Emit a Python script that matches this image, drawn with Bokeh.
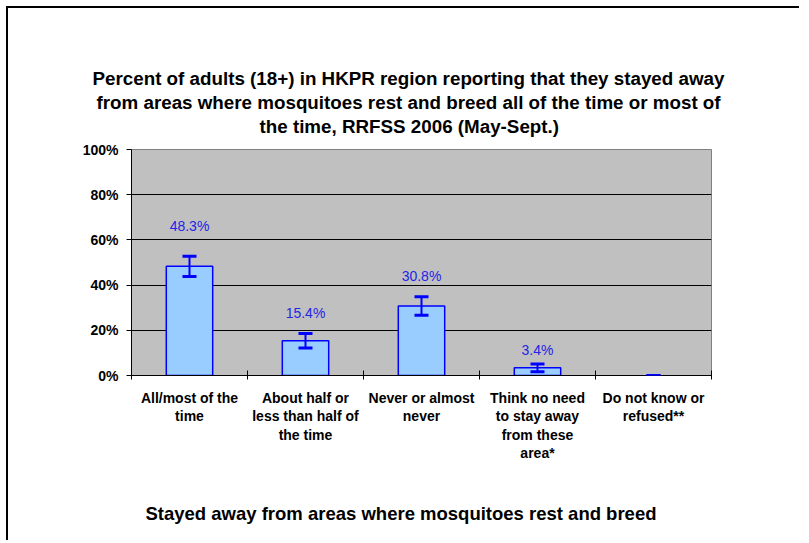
from bokeh.plotting import figure
from bokeh.models import (Range1d, FixedTicker, PrintfTickFormatter, ColumnDataSource,
                          Whisker, TeeHead, Title, InlineStyleSheet)
from bokeh.embed import file_html
from bokeh.resources import INLINE
from bokeh.core.properties import value

# ---------------- data ----------------
CATEGORIES = [
    "All/most of the\ntime",
    "About half or\nless than half of\nthe time",
    "Never or almost\nnever",
    "Think no need\nto stay away\nfrom these\narea*",
    "Do not know or\nrefused**",
]
PERCENT = [48.3, 15.4, 30.8, 3.4, 0.0]
CI_HALF = [4.5, 3.2, 4.1, 1.7, 0.0]
VALUE_LABELS = ["48.3%", "15.4%", "30.8%", "3.4%", ""]
Y_TICKS = [0, 20, 40, 60, 80, 100]
TITLE_LINES = [
    "Percent of adults (18+) in HKPR region reporting that they stayed away",
    "from areas where mosquitoes rest and breed all of the time or most of",
    "the time, RRFSS 2006 (May-Sept.)",
]
X_TITLE = "Stayed away from areas where mosquitoes rest and breed"

# ---------------- style ----------------
FONT = "Liberation Sans"
LABEL_GAP_PX = [40, 28, 30, 18, 0]
TITLE_LEFT_OFFSET_PX = [-39, -35, 128]   # left edge of each title line relative to plot area
BAR_FILL = "#99CCFF"
BLUE = "#0000FF"
LABEL_BLUE = "#2424E6"

n = len(CATEGORIES)
centers = [i + 0.5 for i in range(n)]
bar_idx = [i for i in range(n) if PERCENT[i] > 0]

bar_src = ColumnDataSource(dict(
    x=[centers[i] for i in bar_idx],
    top=[PERCENT[i] for i in bar_idx],
))
err_src = ColumnDataSource(dict(
    x=centers,
    upper=[v + e for v, e in zip(PERCENT, CI_HALF)],
    lower=[v - e for v, e in zip(PERCENT, CI_HALF)],
))
lab_src = ColumnDataSource(dict(
    x=[centers[i] for i in bar_idx],
    y=[PERCENT[i] for i in bar_idx],
    text=[VALUE_LABELS[i] for i in bar_idx],
    yoff=[-LABEL_GAP_PX[i] for i in bar_idx],
))

W, H = 793, 534
p = figure(width=W, height=H, output_backend="svg", toolbar_location=None,
           x_range=Range1d(0, n), y_range=Range1d(0, 100),
           min_border_left=123, min_border_right=90,
           min_border_top=141, min_border_bottom=H - 141 - 226)
p.title = None
p.stylesheets = [InlineStyleSheet(css=":host { margin-left: 6px; margin-top: 6px; "
                                      "border-left: 2px solid black; border-top: 2px solid black; }")]


def spacer(px):
    # a blank (white on white) panel used only to push the next title away from the plot
    return Title(text=".", text_font=FONT, text_font_size="12px",
                 text_color="white", standoff=px)


# title: spacer next to the plot, then lines from the nearest outward
p.add_layout(spacer(0.5), "above")
for line, off in reversed(list(zip(TITLE_LINES, TITLE_LEFT_OFFSET_PX))):
    p.add_layout(Title(text=line, align="left", offset=off,
                       text_font=FONT, text_font_style="bold", text_font_size="18.8px",
                       text_color="black", standoff=0.5), "above")

p.background_fill_color = "#C0C0C0"
p.border_fill_color = "white"
p.outline_line_color = "#808080"
p.outline_line_width = 1

p.vbar(x="x", top="top", width=0.4, bottom=0, source=bar_src,
       fill_color=BAR_FILL, line_color=BLUE, line_width=1.5)

wh = Whisker(base="x", upper="upper", lower="lower", source=err_src,
             line_color=BLUE, line_width=2, level="overlay",
             upper_head=TeeHead(size=14, line_color=BLUE, line_width=3),
             lower_head=TeeHead(size=14, line_color=BLUE, line_width=3))
p.add_layout(wh)

p.text(x="x", y="y", text="text", y_offset="yoff", source=lab_src,
       text_align="center", text_baseline="middle",
       text_font=value(FONT), text_font_size="14px", text_color=LABEL_BLUE)

# y axis
p.yaxis.ticker = FixedTicker(ticks=Y_TICKS)
p.yaxis.formatter = PrintfTickFormatter(format="%d%%")
p.yaxis.major_label_text_font = FONT
p.yaxis.major_label_text_font_style = "bold"
p.yaxis.major_label_text_font_size = "14px"
p.yaxis.major_label_text_color = "black"
p.yaxis.major_tick_in = 0
p.yaxis.major_tick_out = 5
p.yaxis.minor_tick_line_color = None
p.yaxis.major_label_standoff = 8
p.yaxis.axis_line_color = "black"

# x axis
p.xaxis.ticker = FixedTicker(ticks=centers, minor_ticks=list(range(n + 1)))
p.xaxis.major_label_overrides = {c: lab for c, lab in zip(centers, CATEGORIES)}
p.xaxis.major_tick_line_color = None
p.xaxis.major_tick_in = 0
p.xaxis.major_tick_out = 0
p.xaxis.minor_tick_in = 5
p.xaxis.minor_tick_out = 4
p.xaxis.minor_tick_line_color = "black"
p.xaxis.major_label_text_font = FONT
p.xaxis.major_label_text_font_style = "bold"
p.xaxis.major_label_text_font_size = "14px"
p.xaxis.major_label_text_line_height = 1.16
p.xaxis.major_label_text_color = "black"
p.xaxis.major_label_standoff = 10
p.xaxis.axis_line_color = "black"

p.xgrid.grid_line_color = None
p.ygrid.grid_line_color = "black"
p.ygrid.grid_line_width = 1

# x-axis title below the category labels
p.add_layout(spacer(25.4), "below")
p.add_layout(Title(text=X_TITLE, align="left", offset=14,
                   text_font=FONT, text_font_style="bold", text_font_size="18.5px",
                   text_color="black", standoff=0), "below")

open("out.html", "w").write(file_html(p, INLINE))
